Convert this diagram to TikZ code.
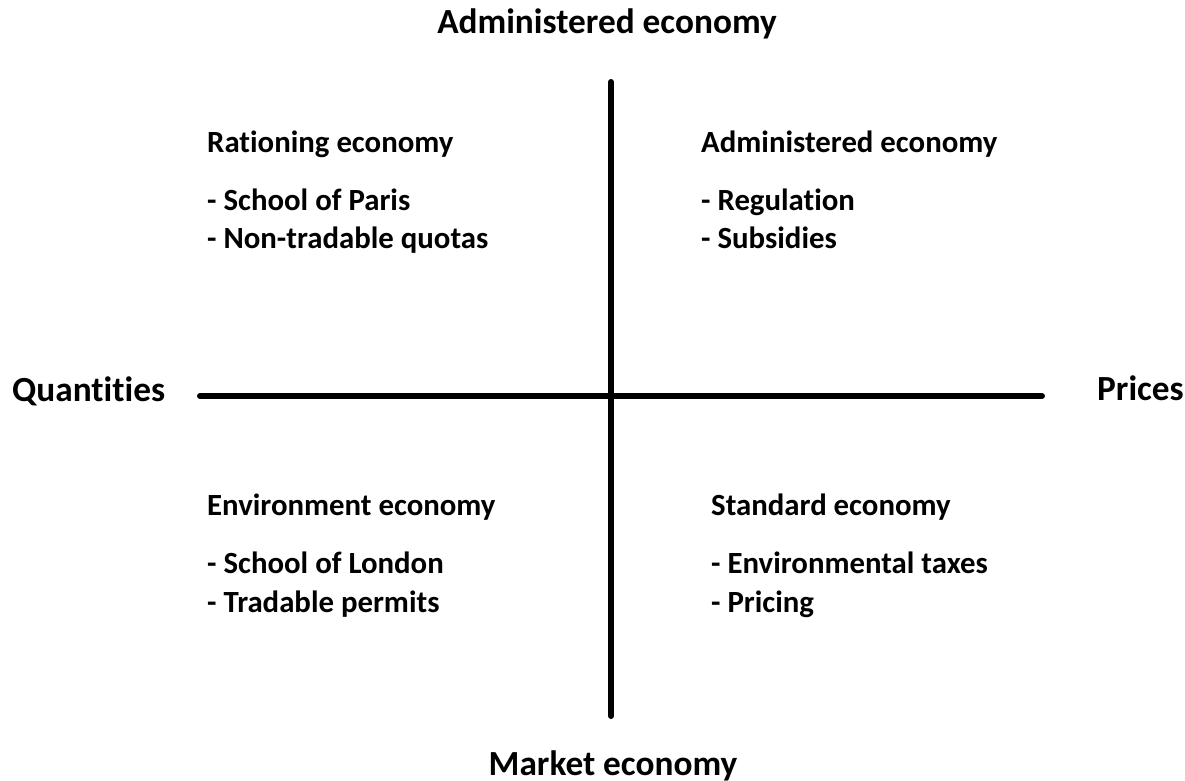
\documentclass[tikz,border=0pt]{standalone}
\usepackage{fontspec}
\setmainfont{Carlito}[Ligatures=NoCommon]
\begin{document}
\begin{tikzpicture}[x=1pt,y=-1pt,
  axis/.style={line width=6pt,line cap=round},
  pole/.style={font=\fontsize{35.3}{40}\selectfont\bfseries,inner sep=0pt},
  item/.style={font=\fontsize{30.8}{35}\selectfont\bfseries,inner sep=0pt,anchor=base west}]
\useasboundingbox (0,0) rectangle (1185,780);
% axes
\coordinate (vt) at (611,82);
\coordinate (vb) at (611,716);
\coordinate (hl) at (200,396);
\coordinate (hr) at (1042,396);
\draw[axis] (vt) -- (vb);
\draw[axis] (hl) -- (hr);
% poles
\node[pole,anchor=base] (top) at (607,33) {Administered economy};
\node[pole,anchor=base] (bottom) at (613,775) {Market economy};
\node[pole,anchor=base west] (left) at (12,401) {Quantities};
\node[pole,anchor=base west] (right) at (1097,400) {Prices};
% upper left
\node[item] (ul0) at (207,152) {Rationing economy};
\node[item] (ul1) at (207,210) {- School of Paris};
\node[item] (ul2) at (207,248) {- Non-tradable quotas};
% upper right
\node[item] (ur0) at (701,152) {Administered economy};
\node[item] (ur1) at (701,210) {- Regulation};
\node[item] (ur2) at (701,248) {- Subsidies};
% lower left
\node[item] (ll0) at (207,515) {Environment economy};
\node[item] (ll1) at (207,573) {- School of London};
\node[item] (ll2) at (207,612) {- Tradable permits};
% lower right
\node[item] (lr0) at (711,515) {Standard economy};
\node[item] (lr1) at (711,573) {- Environmental taxes};
\node[item] (lr2) at (711,612) {- Pricing};
\end{tikzpicture}
\end{document}
